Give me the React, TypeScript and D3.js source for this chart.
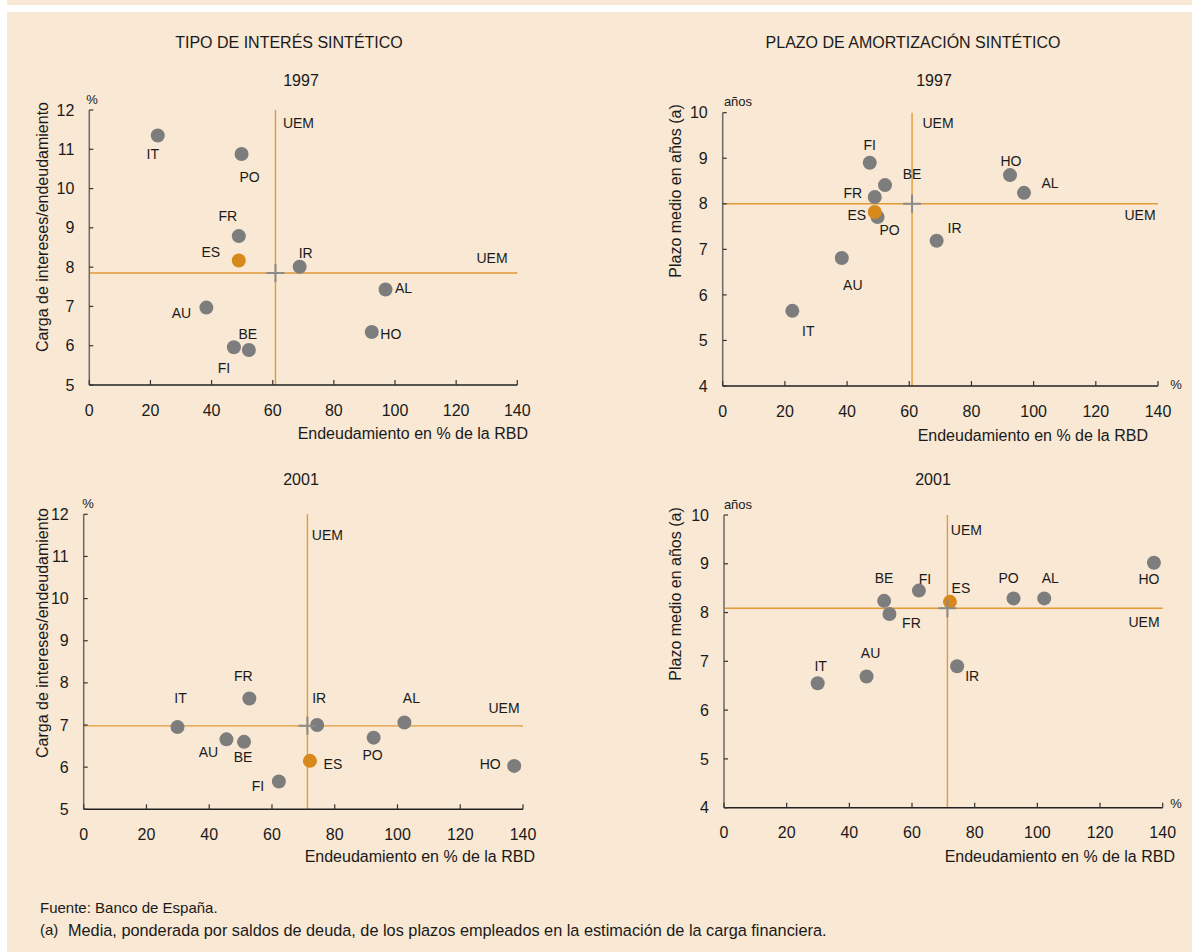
import React from "react";
import * as d3 from "d3";

// ---- data ----
const COUNTRIES = ["IT", "AU", "FI", "FR", "ES", "PO", "BE", "IR", "HO", "AL"];
const DEBT_1997 = [22.4, 38.3, 47.3, 48.9, 48.9, 49.8, 52.2, 68.8, 92.4, 96.9];
const INTEREST_1997 = [11.35, 6.97, 5.96, 8.79, 8.17, 10.88, 5.89, 8.01, 6.35, 7.43];
const TERM_1997 = [5.65, 6.81, 8.9, 8.15, 7.82, 7.71, 8.41, 7.19, 8.63, 8.24];
const DEBT_2001 = [29.9, 45.5, 62.2, 52.8, 72.1, 92.4, 51.1, 74.4, 137.2, 102.2];
const INTEREST_2001 = [6.95, 6.66, 5.66, 7.63, 6.15, 6.7, 6.6, 7.0, 6.03, 7.06];
const TERM_2001 = [6.55, 6.69, 8.45, 7.97, 8.22, 8.29, 8.24, 6.9, 9.02, 8.29];
const UEM_DEBT = [60.9, 71.3];
const UEM_INTEREST = [7.85, 6.98];
const UEM_TERM = [8.0, 8.09];
const X_TICKS = [0, 20, 40, 60, 80, 100, 120, 140];
const Y_TICKS_INTEREST = [5, 6, 7, 8, 9, 10, 11, 12];
const Y_TICKS_TERM = [4, 5, 6, 7, 8, 9, 10];
const HIGHLIGHT = "ES";

// ---- layout / styles ----
const FONT = "'Liberation Sans', Arial, Helvetica, sans-serif";
const BG = "#f8e8d4";
const GRAY = "#7d7d7d";
const ORANGE = "#d8891c";
const LINE = "#e29a38";
const TEXT = "#1a1a1a";

type Off = Record<string, [number, number]>;

const OFF_P1: Off = {
  IT: [-5, 19], PO: [8, 23], FR: [-11, -20], ES: [-28, -8], IR: [6, -14],
  AL: [18, -1], AU: [-25, 5], HO: [19, 2], BE: [-1, -16], FI: [-10, 21],
};
const OFF_P2: Off = {
  FI: [0, -18], BE: [27, -11], FR: [-22, -4], ES: [-18, 3], PO: [12, 13],
  HO: [1, -14], AL: [26, -10], IR: [18, -13], AU: [11, 27], IT: [16, 20],
};
const OFF_P3: Off = {
  FR: [-6, -22], IT: [3, -29], IR: [2, -27], AL: [7, -24], AU: [-18, 13],
  BE: [-1, 15], PO: [-1, 17], ES: [23, 3], HO: [-24, -2], FI: [-21, 5],
};
const OFF_P4: Off = {
  HO: [-5, 16], FI: [6, -12], ES: [11, -14], BE: [0, -23], FR: [22, 9],
  PO: [-5, -20], AL: [6, -20], IR: [15, 10], AU: [4, -23], IT: [3, -17],
};

interface PanelProps {
  xr: [number, number];
  yr: [number, number];
  yDomain: [number, number];
  yTicks: number[];
  xs: number[];
  ys: number[];
  uemX: number;
  uemY: number;
  offs: Off;
  unitY: string;
  unitYPos: [number, number];
  unitX?: [number, number];
  vLabel: [number, number]; // dx from line, absolute y
  hLabel: [number, number]; // absolute x, dy from line
  yTitle: string;
  yTitlePos: [number, number];
  xTitleRight: number;
  xTitleY: number;
}

function Panel(p: PanelProps) {
  const x = d3.scaleLinear().domain([0, 140]).range(p.xr);
  const y = d3.scaleLinear().domain(p.yDomain).range(p.yr);
  const x0 = p.xr[0];
  const x1 = p.xr[1];
  const yb = p.yr[0];
  const yt = p.yr[1];
  const ux = x(p.uemX);
  const uy = y(p.uemY);
  const order = COUNTRIES.map((c, i) => i).sort(
    (a, b) => (COUNTRIES[a] === HIGHLIGHT ? 1 : 0) - (COUNTRIES[b] === HIGHLIGHT ? 1 : 0)
  );
  return (
    <g fontFamily={FONT} fill={TEXT}>
      {/* UEM lines */}
      <line x1={x0} x2={x1} y1={uy} y2={uy} stroke={LINE} strokeWidth={1.4} />
      <line x1={ux} x2={ux} y1={yt} y2={yb} stroke={LINE} strokeWidth={1.4} />
      <text x={ux + p.vLabel[0]} y={p.vLabel[1]} fontSize={14} textAnchor="middle" dy="0.35em">UEM</text>
      <text x={p.hLabel[0]} y={uy + p.hLabel[1]} fontSize={14} textAnchor="middle" dy="0.35em">UEM</text>
      {/* axes */}
      <line x1={x0} x2={x0} y1={yt} y2={yb} stroke="#6a6a6a" strokeWidth={1.5} />
      <line x1={x0} x2={x1} y1={yb} y2={yb} stroke="#222" strokeWidth={1.5} />
      {p.yTicks.map((t) => (
        <g key={"y" + t}>
          <line x1={x0} x2={x0 + 4} y1={y(t)} y2={y(t)} stroke="#333" strokeWidth={1.2} />
          <text x={x0 - 15} y={y(t)} fontSize={16} textAnchor="end" dy="0.35em">{t}</text>
        </g>
      ))}
      {X_TICKS.map((t) => (
        <g key={"x" + t}>
          <line x1={x(t)} x2={x(t)} y1={yb} y2={yb - 5} stroke="#333" strokeWidth={1.2} />
          <text x={x(t)} y={yb + 25} fontSize={16} textAnchor="middle" dy="0.35em">{t}</text>
        </g>
      ))}
      <text x={p.unitYPos[0]} y={p.unitYPos[1]} fontSize={13} textAnchor="middle" dy="0.35em">{p.unitY}</text>
      {p.unitX && (
        <text x={p.unitX[0]} y={p.unitX[1]} fontSize={13} textAnchor="middle" dy="0.35em">%</text>
      )}
      <text
        transform={`translate(${p.yTitlePos[0]},${p.yTitlePos[1]}) rotate(-90)`}
        fontSize={16}
        textAnchor="middle"
        dy="0.35em"
      >
        {p.yTitle}
      </text>
      <text x={p.xTitleRight} y={p.xTitleY} fontSize={16} textAnchor="end" dy="0.35em">
        Endeudamiento en % de la RBD
      </text>
      {/* dots */}
      {order.map((i) => {
        const c = COUNTRIES[i];
        return (
          <circle key={c} cx={x(p.xs[i])} cy={y(p.ys[i])} r={7} fill={c === HIGHLIGHT ? ORANGE : GRAY} />
        );
      })}
      {/* UEM cross */}
      <path d={`M${ux - 9},${uy}h18M${ux},${uy - 9}v18`} stroke="#8a8a8a" strokeWidth={2} fill="none" />
      {/* labels */}
      {COUNTRIES.map((c, i) => (
        <text
          key={"l" + c}
          x={x(p.xs[i]) + p.offs[c][0]}
          y={y(p.ys[i]) + p.offs[c][1]}
          fontSize={14}
          textAnchor="middle"
          dy="0.35em"
        >
          {c}
        </text>
      ))}
    </g>
  );
}

export default function App() {
  return (
    <svg
      width={1192}
      height={952}
      style={{ position: "absolute", left: 0, top: 0, display: "block" }}
    >
      <rect x={0} y={0} width={1192} height={952} fill="#ffffff" />
      <rect x={7} y={0} width={1185} height={5} fill={BG} />
      <rect x={7} y={12} width={1185} height={940} fill={BG} />
      <g fontFamily={FONT} fill={TEXT} fontSize={16} textAnchor="middle">
        <text x={289} y={42} dy="0.35em">TIPO DE INTERÉS SINTÉTICO</text>
        <text x={913} y={42} dy="0.35em">PLAZO DE AMORTIZACIÓN SINTÉTICO</text>
        <text x={301} y={80} dy="0.35em">1997</text>
        <text x={934} y={80} dy="0.35em">1997</text>
        <text x={301} y={479} dy="0.35em">2001</text>
        <text x={933} y={479} dy="0.35em">2001</text>
      </g>
      <Panel
        xr={[89.3, 517.3]}
        yr={[385, 110]}
        yDomain={[5, 12]}
        yTicks={Y_TICKS_INTEREST}
        xs={DEBT_1997}
        ys={INTEREST_1997}
        uemX={UEM_DEBT[0]}
        uemY={UEM_INTEREST[0]}
        offs={OFF_P1}
        unitY="%"
        unitYPos={[92, 99]}
        vLabel={[23, 123]}
        hLabel={[492, -15]}
        yTitle="Carga de intereses/endeudamiento"
        yTitlePos={[42, 227]}
        xTitleRight={528}
        xTitleY={433}
      />
      <Panel
        xr={[722.7, 1158]}
        yr={[386, 112.7]}
        yDomain={[4, 10]}
        yTicks={Y_TICKS_TERM}
        xs={DEBT_1997}
        ys={TERM_1997}
        uemX={UEM_DEBT[0]}
        uemY={UEM_TERM[0]}
        offs={OFF_P2}
        unitY="años"
        unitYPos={[738, 101]}
        unitX={[1176, 384]}
        vLabel={[26, 123]}
        hLabel={[1140, 11]}
        yTitle="Plazo medio en años (a)"
        yTitlePos={[675, 191]}
        xTitleRight={1148}
        xTitleY={435}
      />
      <Panel
        xr={[83.7, 523]}
        yr={[809.3, 514.3]}
        yDomain={[5, 12]}
        yTicks={Y_TICKS_INTEREST}
        xs={DEBT_2001}
        ys={INTEREST_2001}
        uemX={UEM_DEBT[1]}
        uemY={UEM_INTEREST[1]}
        offs={OFF_P3}
        unitY="%"
        unitYPos={[88, 503]}
        vLabel={[20, 535]}
        hLabel={[504, -18]}
        yTitle="Carga de intereses/endeudamiento"
        yTitlePos={[42, 633]}
        xTitleRight={535}
        xTitleY={856}
      />
      <Panel
        xr={[724, 1162.7]}
        yr={[807.7, 515]}
        yDomain={[4, 10]}
        yTicks={Y_TICKS_TERM}
        xs={DEBT_2001}
        ys={TERM_2001}
        uemX={UEM_DEBT[1]}
        uemY={UEM_TERM[1]}
        offs={OFF_P4}
        unitY="años"
        unitYPos={[738, 504]}
        unitX={[1176, 803]}
        vLabel={[19, 530]}
        hLabel={[1144, 14]}
        yTitle="Plazo medio en años (a)"
        yTitlePos={[675, 594]}
        xTitleRight={1175}
        xTitleY={856}
      />
      <g fontFamily={FONT} fill={TEXT}>
        <text x={40} y={908} dy="0.35em" fontSize={15}>Fuente: Banco de España.</text>
        <text x={40} y={930} dy="0.35em" fontSize={15}>(a)</text>
        <text x={68} y={930} dy="0.35em" fontSize={16.3}>
          Media, ponderada por saldos de deuda, de los plazos empleados en la estimación de la carga financiera.
        </text>
      </g>
    </svg>
  );
}
